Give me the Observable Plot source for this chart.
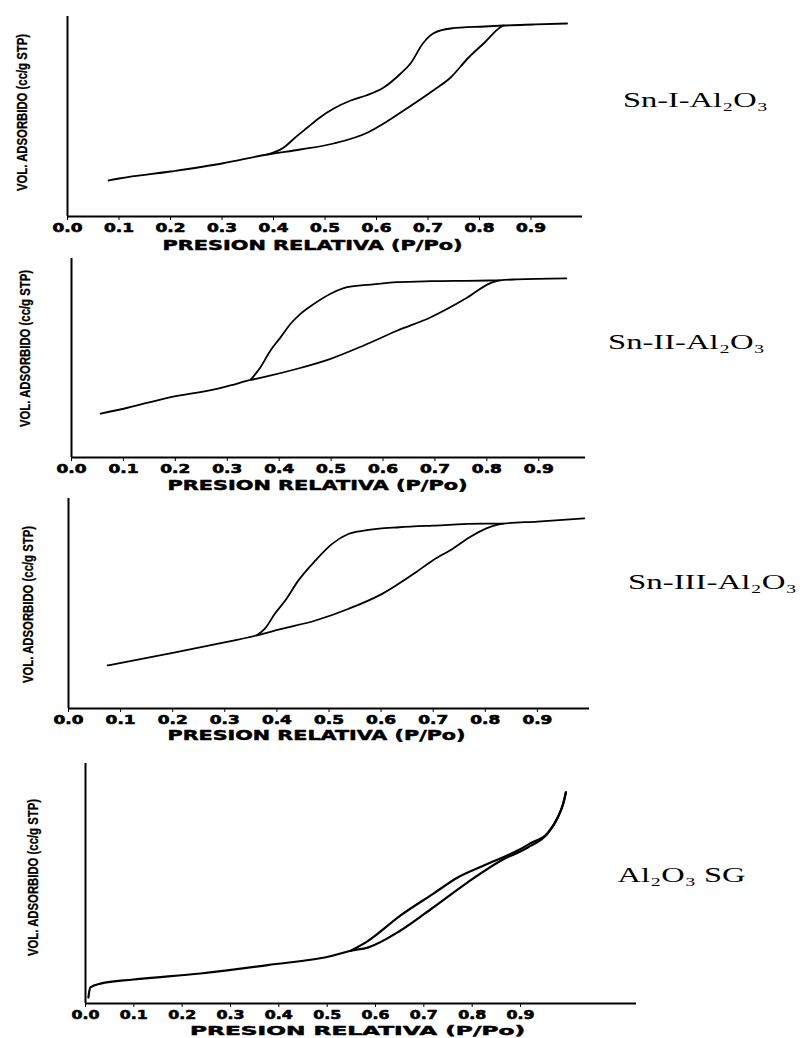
<!DOCTYPE html>
<html>
<head>
<meta charset="utf-8">
<script src="https://cdn.jsdelivr.net/npm/d3@7"></script>
<script src="https://cdn.jsdelivr.net/npm/@observablehq/plot@0.6"></script>
<style>
  body { margin: 0; background: #fff; }
  #chart { position: relative; width: 800px; height: 1038px; background: #fff; overflow: hidden; }
  #chart svg { position: absolute; left: 0; overflow: visible; }
</style>
</head>
<body>
<div id="chart"></div>
<script>
// ---------- tick labels & texts ----------
const tickValues = [0, 0.1, 0.2, 0.3, 0.4, 0.5, 0.6, 0.7, 0.8, 0.9];
const tickLabels = ["0.0", "0.1", "0.2", "0.3", "0.4", "0.5", "0.6", "0.7", "0.8", "0.9"];
const yLabel = "VOL. ADSORBIDO (cc/g STP)";
const xLabel = "PRESION RELATIVA (P/Po)";
const sampleNames = ["Sn-I-Al₂O₃", "Sn-II-Al₂O₃", "Sn-III-Al₂O₃", "Al₂O₃ SG"];

// ---------- Sn-I-Al2O3 ----------
const snI_adsP = [0.08, 0.10, 0.20, 0.30, 0.388, 0.452, 0.517, 0.583, 0.614, 0.647, 0.71, 0.744, 0.777, 0.81, 0.84, 0.847];
const snI_adsV = [18, 19, 22.5, 26.5, 31, 33.5, 36.5, 42, 46.5, 52, 63, 69.5, 79, 87, 94.5, 95.5];
const snI_desP = [0.388, 0.42, 0.44, 0.466, 0.49, 0.517, 0.55, 0.58, 0.614, 0.647, 0.666, 0.69, 0.71, 0.744, 0.81, 0.847, 0.905, 0.97];
const snI_desV = [31, 34.5, 39, 44.5, 49.5, 54, 58, 60.5, 64.5, 71.5, 76.5, 86.5, 91.5, 94, 95, 95.5, 96, 96.5];

// ---------- Sn-II-Al2O3 ----------
const snII_adsP = [0.056, 0.108, 0.185, 0.28, 0.306, 0.345, 0.37, 0.435, 0.499, 0.563, 0.628, 0.692, 0.76, 0.806, 0.825, 0.857, 0.953];
const snII_adsV = [22, 25, 30, 34.5, 36.2, 39, 40.4, 44.6, 49.6, 56.3, 63.8, 70.5, 80, 87.5, 89, 89.5, 90];
const snII_desP = [0.345, 0.364, 0.383, 0.403, 0.422, 0.441, 0.467, 0.499, 0.531, 0.576, 0.628, 0.692, 0.76, 0.825];
const snII_desV = [39, 45.4, 53.7, 60.5, 67.2, 72.2, 77.2, 82.3, 85.6, 86.9, 88.1, 88.6, 88.8, 89];

// ---------- Sn-III-Al2O3 ----------
const snIII_adsP = [0.075, 0.19, 0.29, 0.361, 0.409, 0.474, 0.538, 0.602, 0.667, 0.699, 0.737, 0.77, 0.80, 0.834, 0.9, 0.99];
const snIII_adsV = [20.5, 26, 31, 34.8, 37.9, 41.9, 47.5, 54.6, 64.9, 70.5, 76, 81.5, 85.5, 88, 89, 90.5];
const snIII_desP = [0.361, 0.377, 0.396, 0.416, 0.441, 0.474, 0.506, 0.538, 0.570, 0.635, 0.699, 0.80, 0.834];
const snIII_desV = [34.8, 38, 45.1, 51.4, 60.9, 70.5, 78.4, 83.2, 84.8, 86.3, 87.1, 88, 88];

// ---------- Al2O3 SG ----------
const sg_adsP = [0.006, 0.01, 0.031, 0.099, 0.238, 0.377, 0.513, 0.549, 0.584, 0.652, 0.72, 0.79, 0.86, 0.915, 0.956, 0.977, 0.988, 0.994];
const sg_adsV = [2.5, 6.7, 8.3, 10, 12.5, 16, 20, 22, 23.3, 30.4, 40.1, 50.4, 59.6, 65, 70.8, 77.5, 83, 88];
const sg_desP = [0.549, 0.584, 0.652, 0.72, 0.77, 0.824, 0.894, 0.92, 0.956, 0.977, 0.988, 0.994];
const sg_desV = [22, 26, 36.7, 45.8, 52.5, 57.5, 63.75, 66.7, 71, 77.5, 83, 88];

// ---------- layout (pixels) ----------
const panels = [
  {name: sampleNames[0], ads: [snI_adsP, snI_adsV], des: [snI_desP, snI_desV],
   top: 0, h: 252, ml: 67, mr: 218, mt: 16, mb: 36, xMax: 1.0, tickLen: 30, lw: 1.8,
   ylab: [22, 112], xlab: [312, 245], xlabLen: 300, xlabSize: 14, nameAt: [695, 100], nameLen: 145},
  {name: sampleNames[1], ads: [snII_adsP, snII_adsV], des: [snII_desP, snII_desV],
   top: 252, h: 240, ml: 71, mr: 215, mt: 6, mb: 35, xMax: 0.99, tickLen: 30, lw: 1.8,
   ylab: [25, 96], xlab: [317, 233], xlabLen: 300, xlabSize: 14, nameAt: [686, 90], nameLen: 157},
  {name: sampleNames[2], ads: [snIII_adsP, snIII_adsV], des: [snIII_desP, snIII_desV],
   top: 492, h: 252, ml: 68, mr: 211, mt: 6, mb: 36, xMax: 1.0, tickLen: 30, lw: 1.8,
   ylab: [28, 112], xlab: [316, 243], xlabLen: 298, xlabSize: 14, nameAt: [712, 90], nameLen: 169},
  {name: sampleNames[3], ads: [sg_adsP, sg_adsV], des: [sg_desP, sg_desV],
   top: 744, h: 294, ml: 85, mr: 164, mt: 19, mb: 35, xMax: 1.14, tickLen: 28, lw: 2.2,
   ylab: [33, 133], xlab: [357, 286], xlabLen: 335, xlabSize: 13, nameAt: [681, 131], nameLen: 128}
];

const chart = document.getElementById("chart");

function fit(sel, test, len, heavy) {
  const t = sel.selectAll("text")
    .filter(function () { return test(this.textContent.trim()); })
    .attr("textLength", len)
    .attr("lengthAdjust", "spacingAndGlyphs");
  if (heavy) t.style("stroke", "black").style("stroke-width", heavy).style("stroke-linejoin", "round");
}

for (const cfg of panels) {
  const rows = [
    ...cfg.ads[0].map((p, i) => ({p, v: cfg.ads[1][i], branch: "adsorcion"})),
    ...cfg.des[0].map((p, i) => ({p, v: cfg.des[1][i], branch: "desorcion"}))
  ];
  const svg = Plot.plot({
    width: 800,
    height: cfg.h,
    marginLeft: cfg.ml,
    marginRight: cfg.mr,
    marginTop: cfg.mt,
    marginBottom: cfg.mb,
    style: {fontFamily: "DejaVu Sans", fontWeight: "bold", fontSize: "12px", color: "black", background: "transparent"},
    x: {domain: [0, cfg.xMax], ticks: tickValues, tickFormat: d => tickLabels[tickValues.indexOf(d)], tickSize: 4, tickPadding: 3, label: null},
    y: {domain: [0, 100], axis: null},
    marks: [
      Plot.ruleX([0], {strokeWidth: 2}),
      Plot.ruleY([0], {strokeWidth: 2}),
      Plot.line(rows, {x: "p", y: "v", z: "branch", curve: "monotone-x", strokeWidth: cfg.lw}),
      Plot.text([yLabel], {text: d => d, frameAnchor: "top-left", textAnchor: "middle", lineAnchor: "middle",
        dx: cfg.ylab[0] - cfg.ml, dy: cfg.ylab[1] - cfg.mt,
        rotate: -90, fontFamily: "Liberation Sans", fontSize: 14, fontWeight: "bold"}),
      Plot.text([xLabel], {text: d => d, frameAnchor: "top-left", textAnchor: "middle", lineAnchor: "middle",
        dx: cfg.xlab[0] - cfg.ml, dy: cfg.xlab[1] - cfg.mt,
        fontFamily: "DejaVu Sans", fontSize: cfg.xlabSize, fontWeight: "bold"}),
      Plot.text([cfg.name], {text: d => d, frameAnchor: "top-left", textAnchor: "middle", lineAnchor: "middle",
        dx: cfg.nameAt[0] - cfg.ml, dy: cfg.nameAt[1] - cfg.mt,
        fontFamily: "Liberation Serif", fontSize: 21, fontWeight: "normal"})
    ]
  });
  svg.style.top = cfg.top + "px";
  const s = d3.select(svg);
  fit(s, c => tickLabels.includes(c), cfg.tickLen, 0.6);
  fit(s, c => c === yLabel, 157, 0.3);
  fit(s, c => c === xLabel, cfg.xlabLen, 0.5);
  fit(s, c => c === cfg.name, cfg.nameLen, 0);
  chart.appendChild(svg);
}
</script>
</body>
</html>
